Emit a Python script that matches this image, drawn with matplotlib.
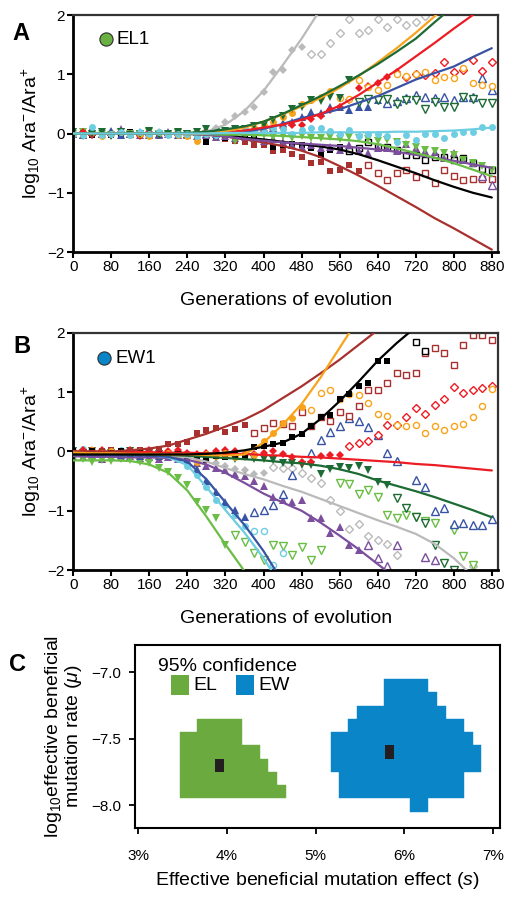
import numpy as np
import matplotlib.pyplot as plt
from matplotlib.patches import Rectangle

plt.rcParams['font.family'] = ['Liberation Sans', 'DejaVu Sans']
plt.rcParams['mathtext.fontset'] = 'custom'
plt.rcParams['mathtext.rm'] = 'Liberation Sans'
plt.rcParams['mathtext.it'] = 'Liberation Sans:italic'
plt.rcParams['mathtext.bf'] = 'Liberation Sans:bold'

# sampling every 20 generations, fitted curves read every 40 generations
step = 20
fit_gens = list(range(0, 881, 40))

colors = {
    'gray': '#bababa', 'orange': '#f8a31b', 'dgreen': '#1d6b34', 'red': '#ec1c24',
    'blue': '#3953a4', 'cyan': '#6dcde2', 'lgreen': '#6abd45', 'purple': '#7b4f9d',
    'black': '#000000', 'brown': '#a8312f',
}
markers = {
    'gray': 'D', 'orange': 'o', 'dgreen': 'v', 'red': 'D', 'blue': '^',
    'cyan': 'o', 'lgreen': 'v', 'purple': '^', 'black': 's', 'brown': 's',
}

# ---------------- panel A (EL1) ----------------
a_gray_fill = [0.0, 0.02, -0.03, 0.0, 0.03, -0.02, 0.01, 0.0, -0.04, 0.02, 0.0, 0.03, -0.01, 0.02,
               0.05, 0.1, 0.2, 0.29, 0.37, 0.45, 0.70, 1.04, 1.07, 1.41, 1.46]
a_gray_open_start = 500
a_gray_open = [1.35, 1.35, 1.52, 1.70, 1.93, 1.69, 1.74, 1.94, 1.80, 1.93, 1.83, 1.89, 1.98]
a_gray_fit = [0, 0, 0, 0, 0, 0, 0, 0.03, 0.15, 0.38, 0.72, 1.15, 1.6, 2.1]

a_orange_fill = [0.0, -0.03, 0.02, -0.05, 0.0, 0.02, -0.02, 0.0, -0.04, 0.01, 0.0, -0.02, -0.05, -0.12,
                 0.0, 0.02, 0.04, 0.05, 0.06, 0.1, 0.15, 0.2, 0.28, 0.34, 0.50, 0.57, 0.62, 0.71]
a_orange_open_start = 560
a_orange_open = [0.6, 0.58, 0.9, 0.78, 0.73, 0.82, 1.0, 0.97, 1.0, 1.04, 0.9, 0.95, 0.93, 1.1,
                 0.85, 0.82, 0.8]
a_orange_fit = [0, 0, 0, 0, 0, 0, 0, 0, 0.04, 0.1, 0.2, 0.32, 0.46, 0.6, 0.77, 0.97, 1.2, 1.44,
                1.7, 1.98, 2.26]

a_dgreen_fill = [0.02, -0.04, 0.0, 0.03, -0.05, 0.02, -0.03, 0.0, 0.04, -0.02, 0.0, 0.02, -0.01,
                 0.03, 0.08, 0.03, 0.05, 0.07, 0.08, 0.12, 0.15, 0.22, 0.3, 0.42, 0.45, 0.57, 0.55,
                 0.62, 0.6, 0.9]
a_dgreen_open_start = 600
a_dgreen_open = [0.54, 0.58, 0.56, 0.59, 0.5, 0.56, 0.56, 0.42, 0.54, 0.45, 0.45, 0.62, 0.59,
                 0.51, 0.51]
a_dgreen_fit = [0, 0, 0, 0, 0, 0, 0.01, 0.03, 0.07, 0.12, 0.2, 0.33, 0.48, 0.63, 0.8, 0.98, 1.17,
                1.38, 1.6, 1.88, 2.15]

a_red_fill = [0.0, 0.02, -0.03, 0.0, -0.02, 0.03, 0.0, -0.04, 0.02, 0.0, -0.02, 0.01, -0.03, 0.0,
              0.02, 0.0, 0.03, 0.05, 0.04, 0.03, 0.05, 0.08, 0.1, 0.15, 0.14, 0.25, 0.3, 0.4, 0.45,
              0.57, 0.76, 0.8, 0.85, 0.96, 1.04]
a_red_open_start = 700
a_red_open = [0.95, 1.0, 0.99, 1.02, 1.21, 1.04, 1.07, 1.24, 1.05, 1.21]
a_red_fit = [0, 0, 0, 0, 0, 0, 0, 0.01, 0.02, 0.05, 0.1, 0.15, 0.23, 0.33, 0.47, 0.65, 0.86, 1.07,
             1.3, 1.53, 1.77, 2.0, 2.25]

a_blue_fill = [0.0, -0.02, 0.03, 0.0, 0.05, -0.02, 0.0, 0.02, -0.03, 0.0, 0.02, -0.02, 0.0, 0.03,
               -0.01, 0.0, 0.02, 0.0, 0.02, 0.03, 0.06, 0.1, 0.17, 0.2, 0.28, 0.37, 0.35, 0.45,
               0.45, 0.4, 0.45, 0.45, 0.56]
a_blue_open_start = 660
a_blue_open = [0.51, 0.55, 0.6, 0.65, 0.62, 0.6, 0.62, 0.56, 0.62, 0.62, 0.93, 0.73]
a_blue_fit = [0, 0, 0, 0, 0, 0, 0, 0, 0.01, 0.03, 0.08, 0.16, 0.26, 0.33, 0.41, 0.52, 0.63, 0.77,
              0.91, 1.02, 1.13, 1.29, 1.44]

a_cyan_fill = [0.0, -0.02, 0.11, -0.03, 0.0, 0.02, -0.02, 0.03, 0.0, 0.02, -0.03, 0.0, 0.0, -0.05,
               0.0, -0.03, 0.03, 0.05, 0.07, 0.05, 0.02, 0.1, 0.08, 0.0, 0.06, 0.09, 0.09, 0.04,
               0.0, 0.06, -0.05, 0.0, 0.0, -0.05, -0.14, -0.03, -0.11, 0.0, 0.0, -0.08, 0.0, 0.03,
               0.03, 0.11, 0.11]
a_cyan_open_start = 900
a_cyan_open = []
a_cyan_fit = [0, 0, 0, 0, 0, 0, 0, 0, 0.01, 0.01, 0.01, 0.01, 0.01, 0.02, 0.02, 0.02, 0.02, 0.03,
              0.03, 0.04, 0.05, 0.07, 0.1]

a_lgreen_fill = [0.0, 0.03, -0.02, 0.0, -0.03, 0.02, 0.0, -0.02, 0.02, 0.0, -0.03, 0.01, 0.0, -0.02,
                 0.0, -0.05, -0.03, -0.12, -0.04, -0.05, -0.03, -0.06, -0.04, -0.08, -0.05, -0.07,
                 -0.08, -0.06, -0.1, -0.06, -0.08, -0.1, -0.12, -0.11, -0.15, -0.2, -0.22, -0.28,
                 -0.3, -0.33, -0.36, -0.45, -0.5, -0.55, -0.62]
a_lgreen_open_start = 900
a_lgreen_open = []
a_lgreen_fit = [0, 0, 0, 0, 0, 0, -0.01, -0.01, -0.02, -0.02, -0.03, -0.04, -0.06, -0.08, -0.1,
                -0.13, -0.18, -0.25, -0.33, -0.41, -0.5, -0.61, -0.72]

a_purple_fill = [0.0, -0.02, 0.02, 0.0, 0.03, 0.07, 0.0, -0.02, 0.02, -0.03, 0.0, 0.02, -0.02,
                 -0.05, -0.03, -0.06, -0.04, -0.07, -0.06, -0.08, -0.12, -0.1, -0.15, -0.19, -0.22,
                 -0.2, -0.25, -0.22, -0.28, -0.19, -0.3, -0.33, -0.25, -0.25, -0.3, -0.17, -0.25,
                 -0.3, -0.31, -0.42, -0.33, -0.45, -0.5]
a_purple_open_start = 860
a_purple_open = [-0.72, -0.87]
a_purple_fit = [0, 0, 0, 0, 0, 0, -0.01, -0.02, -0.05, -0.09, -0.12, -0.15, -0.17, -0.19, -0.21,
                -0.24, -0.27, -0.31, -0.36, -0.41, -0.46, -0.52, -0.58]

a_black_fill = [0.0, 0.02, -0.02, 0.0, -0.03, 0.0, 0.02, -0.02, 0.0, 0.01, -0.02, 0.0, -0.03, -0.05,
                -0.14, -0.06, -0.08, -0.1, -0.08, -0.1, -0.15, -0.22, -0.19, -0.17, -0.2, -0.25,
                -0.36, -0.28, -0.22]
a_black_open_start = 580
a_black_open = [-0.3, -0.25, -0.14, -0.22, -0.22, -0.28, -0.36, -0.36, -0.45, -0.4, -0.39, -0.45,
                -0.42, -0.5, -0.6, -0.62]
a_black_fit = [0, 0, 0, 0, 0, 0, 0, -0.01, -0.03, -0.07, -0.1, -0.14, -0.18, -0.22, -0.27, -0.35,
               -0.45, -0.56, -0.67, -0.79, -0.9, -1.0, -1.08]

a_brown_fill = [0.0, -0.02, 0.02, 0.0, -0.03, 0.0, 0.02, -0.02, 0.0, -0.02, 0.0, -0.03, -0.02,
                -0.05, -0.06, -0.08, -0.1, -0.12, -0.14, -0.2, -0.2, -0.3, -0.28, -0.34, -0.39,
                -0.5, -0.48, -0.64, -0.62, -0.53, -0.64]
a_brown_open_start = 620
a_brown_open = [-0.53, -0.67, -0.78, -0.67, -0.62, -0.73, -0.67, -0.84, -0.62, -0.72, -0.78, -0.76,
                -0.76, -0.76]
a_brown_fit = [0, 0, 0, 0, 0, 0, 0, -0.02, -0.05, -0.1, -0.15, -0.21, -0.29, -0.4, -0.55, -0.71,
               -0.88, -1.06, -1.24, -1.43, -1.6, -1.78, -1.96]

# ---------------- panel B (EW1) ----------------
b_gray_fill = [0.0, -0.03, 0.02, -0.05, 0.0, -0.02, 0.0, -0.04, -0.03, -0.06, -0.05, -0.08, -0.05,
               -0.1, -0.15, -0.2, -0.25, -0.3, -0.31, -0.38, -0.37]
b_gray_open_start = 420
b_gray_open = [-0.26, -0.28, -0.28, -0.37, -0.45, -0.53, -0.82, -1.0, -1.3, -1.22, -1.42, -1.49,
               -1.56, -1.75, None, None, None, None, None, None, None, -1.93]
b_gray_fit = [0, -0.01, -0.02, -0.03, -0.05, -0.07, -0.1, -0.17, -0.28, -0.38, -0.47, -0.58,
              -0.68, -0.8, -0.92, -1.04, -1.16, -1.27, -1.39, -1.56, -1.8, -2.1]

b_orange_fill = [0.0, -0.03, 0.02, -0.02, 0.0, -0.05, -0.03, 0.0, -0.04, -0.06, -0.02, -0.05,
                 -0.08, -0.17, -0.05, -0.08, -0.03, -0.1, -0.05, -0.06, 0.18, 0.31, 0.48, 0.56,
                 0.75]
b_orange_open_start = 500
b_orange_open = [0.70, 0.98, 1.04, 0.88, 0.97, 0.95, 0.82, 0.64, 0.60, 0.45, 0.43, 0.45, 0.32,
                 0.43, 0.36, 0.43, 0.46, 0.59, 0.76, 1.05]
b_orange_fit = [-0.02, -0.03, -0.03, -0.04, -0.04, -0.05, -0.05, -0.06, -0.07, -0.05, 0.15, 0.45,
                0.8, 1.25, 1.75, 2.25]

b_black_fill = [0.0, -0.02, 0.0, -0.04, -0.02, 0.0, -0.05, -0.03, -0.06, -0.04, -0.08, -0.05, -0.1,
                -0.09, -0.14, -0.08, -0.1, -0.06, -0.08, 0.08, 0.1, 0.12, 0.14, 0.24, 0.3, 0.43,
                0.58, 0.62, 0.88, 0.97, 1.11, 1.15, 1.53, 1.53]
b_black_open_start = 720
b_black_open = [1.84, 1.69]
b_black_fit = [-0.05, -0.05, -0.05, -0.05, -0.05, -0.05, -0.05, -0.04, -0.02, 0.02, 0.08, 0.15,
               0.3, 0.55, 0.85, 1.18, 1.53, 1.83, 2.1]

b_red_fill = [0.0, 0.02, -0.02, 0.03, 0.0, -0.02, 0.02, 0.0, 0.03, -0.02, 0.0, 0.02, -0.03, -0.05,
              -0.02, 0.0, 0.02, 0.0, -0.04, -0.05, -0.03, 0.0, -0.04, -0.1, -0.17, -0.17, -0.08,
              -0.06, -0.06]
b_red_open_start = 580
b_red_open = [0.09, 0.14, 0.17, 0.28, 0.45, 0.45, 0.59, 0.73, 0.64, 0.78, 0.88, 1.09, 0.99, 1.04,
              1.08, 1.1]
b_red_fit = [0, 0, -0.01, -0.01, -0.01, -0.02, -0.02, -0.03, -0.04, -0.04, -0.06, -0.07, -0.09,
             -0.1, -0.12, -0.14, -0.16, -0.18, -0.21, -0.23, -0.26, -0.29, -0.32]

b_dgreen_fill = [0.0, -0.03, 0.0, -0.05, -0.02, -0.04, 0.0, -0.06, -0.03, -0.05, -0.08, -0.06,
                 -0.1, -0.08, -0.12, -0.1, -0.08, -0.12, -0.1, -0.12, -0.13, -0.15, -0.2, -0.2,
                 -0.23, -0.23, -0.38, -0.29, -0.26, -0.28, -0.25, -0.31, -0.51, -0.56]
b_dgreen_open_start = 680
b_dgreen_open = [-0.79, -0.96, -1.11, -1.21, -1.58, -1.89, -2.0]
b_dgreen_fit = [-0.02, -0.03, -0.04, -0.05, -0.05, -0.06, -0.07, -0.09, -0.11, -0.13, -0.15,
                -0.18, -0.2, -0.24, -0.3, -0.38, -0.49, -0.58, -0.67, -0.77, -0.88, -0.99, -1.11]

b_blue_fill = [0.05, 0.0, -0.03, -0.05, 0.0, -0.06, -0.04, -0.08, -0.05, -0.07, -0.06, -0.1, -0.15,
               -0.3, -0.5, -0.68, -0.85, -0.98, -1.11]
b_blue_open_start = 380
b_blue_open = [-1.02, -0.99, -0.9, -0.71, -0.4, None, -0.03, 0.19, 0.33, 0.43, 0.56, 0.52, 0.42,
               0.28, -0.02, -0.16, None, -0.48, -0.6, -1.0, -0.96, -1.22, -1.21, -1.24, -1.24,
               -1.14]
b_blue_fit = [-0.05, -0.06, -0.06, -0.07, -0.07, -0.09, -0.17, -0.47, -0.86, -1.24, -1.68, -2.2]

b_cyan_fill = [0.0, 0.04, 0.02, -0.02, 0.0, 0.03, -0.03, 0.0, -0.05, -0.02, -0.04, -0.12, -0.25,
               -0.4, -0.6, -0.82, -0.9, -1.07, -1.25]
b_cyan_open_start = 380
b_cyan_open = [-1.35, -1.35, -1.92, -1.72]
b_cyan_fit = [-0.03, -0.04, -0.05, -0.05, -0.06, -0.1, -0.23, -0.6, -0.99, -1.37, -1.8, -2.3]

b_lgreen_fill = [-0.15, -0.12, -0.18, -0.14, -0.16, -0.13, -0.15, -0.17, -0.2, -0.28, -0.34, -0.45,
                 -0.57, -0.85, -0.98, -1.13, -1.58]
b_lgreen_open_start = 340
b_lgreen_open = [-1.41, -1.52, -1.72, -1.83, -1.58, -1.6, -1.75, -1.61, -1.83, -1.66, None,
                 -0.54, -0.55, -0.71, -0.65, -0.76, -1.07, -1.13, -1.07, -1.11, -1.18, -1.21,
                 None, -1.32, -1.77, -1.91]
b_lgreen_fit = [-0.15, -0.15, -0.15, -0.16, -0.22, -0.36, -0.66, -1.1, -1.57, -2.02]

b_purple_fill = [-0.08, -0.1, -0.06, -0.12, -0.09, -0.1, -0.07, -0.11, -0.1, -0.13, -0.1, -0.12,
                 -0.15, -0.2, -0.24, -0.28, -0.31, -0.38, -0.42, -0.5, -0.59, -0.76, -0.82, -0.85,
                 -0.82, -1.13, -1.13, -1.38, -1.27, -1.58, -1.66]
b_purple_open_start = 620
b_purple_open = [-1.58, -1.8, -1.94, -1.58, None, None, -1.78, -1.83]
b_purple_fit = [-0.08, -0.09, -0.09, -0.1, -0.1, -0.11, -0.14, -0.22, -0.36, -0.53, -0.71, -0.86,
                -1.0, -1.2, -1.42, -1.65, -1.9, -2.15]

b_brown_fill = [0.0, -0.03, 0.02, 0.0, 0.03, -0.02, 0.0, 0.02, 0.0, 0.05, 0.13, 0.12, 0.16, 0.32,
                0.36, 0.39, 0.33, 0.38, 0.45]
b_brown_open_start = 380
b_brown_open = [0.31, 0.39, 0.48, 0.46, 0.43, 0.66, 0.43, 0.58, 0.52, 0.66, 0.6, 0.77, 1.04, 1.04,
                1.15, 1.32, 1.29, 1.32, 1.66, 1.74, 1.67, 1.46, 1.8, 1.97, 1.97, 1.88]
b_brown_fit = [0.0, 0.0, 0.0, 0.02, 0.05, 0.1, 0.2, 0.3, 0.42, 0.54, 0.7, 0.9, 1.1, 1.32, 1.55,
               1.8, 2.05]

# ---------------- panel C ----------------
el_mu = [-7.4, -7.5, -7.6, -7.7, -7.8, -7.9]
el_s_lo = [3.67, 3.47, 3.47, 3.47, 3.47, 3.47]
el_s_hi = [4.17, 4.17, 4.37, 4.47, 4.57, 4.67]
el_best = (3.92, -7.70)

ew_mu = [-7.1, -7.2, -7.3, -7.4, -7.5, -7.6, -7.7, -7.8, -7.9, -8.0]
ew_s_lo = [5.77, 5.77, 5.47, 5.37, 5.17, 5.17, 5.17, 5.27, 5.27, 6.07]
ew_s_hi = [6.27, 6.37, 6.47, 6.67, 6.77, 6.87, 6.87, 6.67, 6.67, 6.27]
ew_best = (5.83, -7.60)

el_color = '#6aaa3e'
ew_color = '#0a86c8'

panel_a = [
    ('gray', a_gray_fill, a_gray_open_start, a_gray_open, a_gray_fit),
    ('brown', a_brown_fill, a_brown_open_start, a_brown_open, a_brown_fit),
    ('black', a_black_fill, a_black_open_start, a_black_open, a_black_fit),
    ('purple', a_purple_fill, a_purple_open_start, a_purple_open, a_purple_fit),
    ('lgreen', a_lgreen_fill, a_lgreen_open_start, a_lgreen_open, a_lgreen_fit),
    ('blue', a_blue_fill, a_blue_open_start, a_blue_open, a_blue_fit),
    ('red', a_red_fill, a_red_open_start, a_red_open, a_red_fit),
    ('orange', a_orange_fill, a_orange_open_start, a_orange_open, a_orange_fit),
    ('dgreen', a_dgreen_fill, a_dgreen_open_start, a_dgreen_open, a_dgreen_fit),
    ('cyan', a_cyan_fill, a_cyan_open_start, a_cyan_open, a_cyan_fit),
]
panel_b = [
    ('gray', b_gray_fill, b_gray_open_start, b_gray_open, b_gray_fit),
    ('purple', b_purple_fill, b_purple_open_start, b_purple_open, b_purple_fit),
    ('lgreen', b_lgreen_fill, b_lgreen_open_start, b_lgreen_open, b_lgreen_fit),
    ('cyan', b_cyan_fill, b_cyan_open_start, b_cyan_open, b_cyan_fit),
    ('blue', b_blue_fill, b_blue_open_start, b_blue_open, b_blue_fit),
    ('dgreen', b_dgreen_fill, b_dgreen_open_start, b_dgreen_open, b_dgreen_fit),
    ('red', b_red_fill, b_red_open_start, b_red_open, b_red_fit),
    ('brown', b_brown_fill, b_brown_open_start, b_brown_open, b_brown_fit),
    ('orange', b_orange_fill, b_orange_open_start, b_orange_open, b_orange_fit),
    ('black', b_black_fill, b_black_open_start, b_black_open, b_black_fit),
]

marker_size = {'D': 4.4, 'o': 5.0, 'v': 5.8, '^': 5.8, 's': 4.7}


def draw_panel(ax, series):
    for name, fill, open_start, open_vals, fit in series:
        c = colors[name]
        m = markers[name]
        ms = marker_size[m]
        g = np.arange(len(fill)) * step
        ax.plot(g, np.array(fill, dtype=float), ls='none', marker=m, ms=ms,
                mfc=c, mec=c, mew=0, zorder=2)
        if open_vals:
            og = open_start + np.arange(len(open_vals)) * step
            ax.plot(og, np.array(open_vals, dtype=float), ls='none', marker=m, ms=ms - 0.6,
                    mfc='white', mec=c, mew=1.0, zorder=2)
    for name, fill, open_start, open_vals, fit in series:
        ax.plot(fit_gens[:len(fit)], np.array(fit, dtype=float), color=colors[name],
                lw=1.6, zorder=3, solid_capstyle='round')


fig = plt.figure(figsize=(5.09, 8.97), dpi=100)
W, H = 509, 897
ax_a = fig.add_axes([73.3 / W, 1 - 252 / H, 424.7 / W, 237 / H])
ax_b = fig.add_axes([73.3 / W, 1 - 570 / H, 424.7 / W, 237 / H])
ax_c = fig.add_axes([135 / W, 1 - 828 / H, 365 / W, 183 / H])

draw_panel(ax_a, panel_a)
draw_panel(ax_b, panel_b)

for ax in (ax_a, ax_b):
    ax.set_xlim(0, 893)
    ax.set_ylim(-2, 2)
    ax.set_xticks(range(0, 881, 80))
    ax.set_yticks([-2, -1, 0, 1, 2])
    for side in ('left', 'bottom'):
        ax.spines[side].set_linewidth(2)
        ax.spines[side].set_color('black')
    for side in ('top', 'right'):
        ax.spines[side].set_linewidth(1.6)
        ax.spines[side].set_color('#333333')
    ax.tick_params(direction='out', length=4, width=1.5, labelsize=11, pad=2,
                   top=False, right=False)
    ax.set_xlabel('Generations of evolution', fontsize=14, labelpad=13)
    ax.set_ylabel(r'log$_{10}$ Ara$^{-}$/Ara$^{+}$', fontsize=14, labelpad=3)

# population labels
ax_a.plot([0.077], [0.899], 'o', ms=9.5, mfc='#6ab043', mec='#2d2d2d', mew=0.8,
          transform=ax_a.transAxes, clip_on=False, zorder=5)
ax_a.text(0.102, 0.897, 'EL1', transform=ax_a.transAxes, fontsize=13.5, va='center')
ax_b.plot([0.073], [0.895], 'o', ms=9.5, mfc='#0a86c8', mec='#2d2d2d', mew=0.8,
          transform=ax_b.transAxes, clip_on=False, zorder=5)
ax_b.text(0.100, 0.893, 'EW1', transform=ax_b.transAxes, fontsize=13.5, va='center')

# panel C confidence regions
ax_c.barh(el_mu, np.subtract(el_s_hi, el_s_lo), left=el_s_lo, height=0.1,
          color=el_color, edgecolor=el_color, linewidth=0.3)
ax_c.barh(ew_mu, np.subtract(ew_s_hi, ew_s_lo), left=ew_s_lo, height=0.1,
          color=ew_color, edgecolor=ew_color, linewidth=0.3)
for s, mu in (el_best, ew_best):
    ax_c.barh([mu], [0.1], left=[s - 0.05], height=0.1, color='#231f20', linewidth=0)

ax_c.set_xlim(2.966, 7.079)
ax_c.set_ylim(-8.173, -6.794)
ax_c.set_xticks([3, 4, 5, 6, 7])
ax_c.set_xticklabels(['3%', '4%', '5%', '6%', '7%'])
ax_c.set_yticks([-8.0, -7.5, -7.0])
for side in ax_c.spines:
    ax_c.spines[side].set_linewidth(1.5)
ax_c.tick_params(direction='out', length=4, width=1.3, labelsize=11, top=False, right=False)
ax_c.tick_params(axis='x', pad=11)
ax_c.tick_params(axis='y', pad=6)
ax_c.set_xlabel('Effective beneficial mutation effect ($s$)', fontsize=14, labelpad=5)
ax_c.set_ylabel('log$_{10}$effective beneficial\nmutation rate ($\\mu$)', fontsize=14,
                labelpad=5, linespacing=0.95)

ax_c.text(0.062, 0.885, '95% confidence', transform=ax_c.transAxes, fontsize=14, va='center')
ax_c.add_patch(Rectangle((0.099, 0.727), 0.049, 0.109, transform=ax_c.transAxes,
                         color=el_color, lw=0))
ax_c.text(0.159, 0.781, 'EL', transform=ax_c.transAxes, fontsize=14, va='center')
ax_c.add_patch(Rectangle((0.277, 0.727), 0.049, 0.109, transform=ax_c.transAxes,
                         color=ew_color, lw=0))
ax_c.text(0.337, 0.781, 'EW', transform=ax_c.transAxes, fontsize=14, va='center')

# panel letters
fig.text(21 / W, 1 - 33 / H, 'A', fontsize=17, fontweight='bold', ha='center', va='center')
fig.text(22 / W, 1 - 346 / H, 'B', fontsize=17, fontweight='bold', ha='center', va='center')
fig.text(18 / W, 1 - 664 / H, 'C', fontsize=17, fontweight='bold', ha='center', va='center')

fig.savefig('out.png', dpi=100)
